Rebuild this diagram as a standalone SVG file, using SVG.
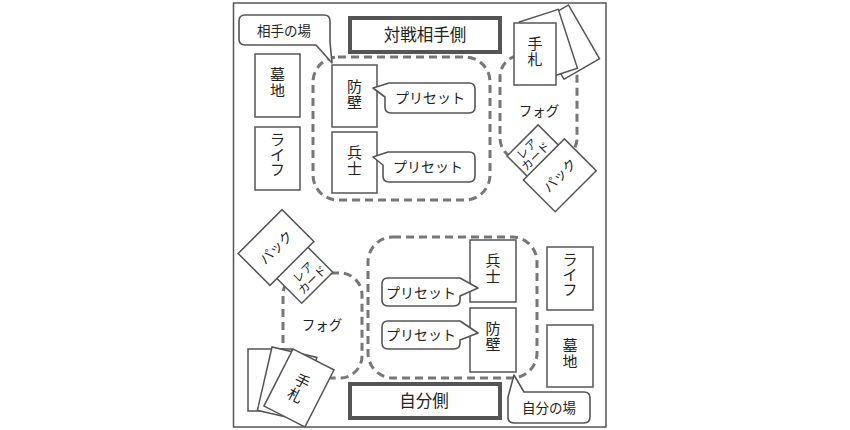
<svg xmlns="http://www.w3.org/2000/svg" width="850" height="430" viewBox="0 0 850 430">
<style>
text{font-family:"Noto Sans CJK JP","Noto Sans",sans-serif;fill:#222;text-anchor:middle}
.card{fill:#fff;stroke:#555;stroke-width:1.5}
.zone{fill:none;stroke:#777;stroke-width:3;stroke-dasharray:8 5}
.title{fill:#fff;stroke:#555;stroke-width:4}
.call{fill:#fff;stroke:#555;stroke-width:1.6;stroke-linejoin:round}
.t15{font-size:15px}
.t14{font-size:14px}
.t13{font-size:13.5px}
.t10{font-size:11.5px}
.t16{font-size:16.5px}
</style>
<rect x="0" y="0" width="850" height="430" fill="#fff"/>
<rect id="frame" x="233.5" y="3" width="372.5" height="424" fill="#fff" stroke="#555" stroke-width="1.5"/>

<g id="zone-opponent"><rect class="zone" x="313" y="57" width="177" height="143" rx="25"/></g>
<g id="zone-self"><rect class="zone" x="368" y="237" width="169" height="141" rx="25"/></g>
<g id="fog-opponent"><rect class="zone" x="500" y="55" width="77" height="105" rx="22"/><text class="t13" x="539" y="116">フォグ</text></g>
<g id="fog-self"><rect class="zone" x="283" y="273" width="79" height="105" rx="22"/><text class="t13" x="322" y="330">フォグ</text></g>

<g id="title-opponent"><rect class="title" x="350" y="18" width="150" height="34"/><text class="t16" x="425" y="41">対戦相手側</text></g>
<g id="title-self"><rect class="title" x="350" y="384" width="150" height="34"/><text class="t16" x="424" y="407">自分側</text></g>

<g id="opp-grave"><rect class="card" x="255" y="54" width="45" height="63"/><text class="t15" x="277.5" y="80">墓</text><text class="t15" x="277.5" y="96">地</text></g>
<g id="opp-life"><rect class="card" x="255" y="127" width="45" height="63"/><text class="t15" x="277.5" y="145">ラ</text><text class="t15" x="277.5" y="160">イ</text><text class="t15" x="277.5" y="175">フ</text></g>
<g id="opp-wall"><rect class="card" x="332" y="65" width="45" height="62"/><text class="t15" x="354.5" y="92">防</text><text class="t15" x="354.5" y="108">壁</text></g>
<g id="opp-soldier"><rect class="card" x="332" y="132" width="45" height="61"/><text class="t15" x="354.5" y="158">兵</text><text class="t15" x="354.5" y="174">士</text></g>

<g id="self-soldier"><rect class="card" x="470" y="240" width="46" height="62"/><text class="t15" x="493" y="266">兵</text><text class="t15" x="493" y="282">士</text></g>
<g id="self-wall"><rect class="card" x="470" y="308" width="46" height="64"/><text class="t15" x="493" y="334">防</text><text class="t15" x="493" y="350">壁</text></g>
<g id="self-life"><rect class="card" x="547" y="247" width="46" height="63"/><text class="t15" x="570" y="265">ラ</text><text class="t15" x="570" y="280">イ</text><text class="t15" x="570" y="295">フ</text></g>
<g id="self-grave"><rect class="card" x="547" y="325" width="46" height="62"/><text class="t15" x="570" y="351">墓</text><text class="t15" x="570" y="367">地</text></g>

<g id="opp-preset1"><path class="call" d="M389,83 H469 Q475,83 475,89 V107 Q475,113 469,113 H391 Q385,113 385,107 V97 L373,88 Z"/><text class="t14" x="430" y="103">プリセット</text></g>
<g id="opp-preset2"><path class="call" d="M388,152 H469 Q475,152 475,158 V176 Q475,182 469,182 H389 Q383,182 383,176 V165 L373,157 Z"/><text class="t14" x="428" y="172">プリセット</text></g>
<g id="self-preset1"><path class="call" d="M388,278 H460 L478,288 L460,296 V300 Q460,306 454,306 H388 Q382,306 382,300 V284 Q382,278 388,278 Z"/><text class="t14" x="421" y="298">プリセット</text></g>
<g id="self-preset2"><path class="call" d="M388,321 H460 L478,333 L460,340 V343 Q460,349 454,349 H388 Q382,349 382,343 V327 Q382,321 388,321 Z"/><text class="t14" x="421" y="340">プリセット</text></g>

<g id="label-opp-field"><path class="call" d="M245,15 H324 Q330,15 330,21 V42 L332,63 L316,45 H245 Q239,45 239,39 V21 Q239,15 245,15 Z"/><text class="t13" x="284" y="36">相手の場</text></g>
<g id="label-self-field"><path class="call" d="M508,417 V397 L514,375 L524,392 H584 Q590,392 590,398 V417 Q590,423 584,423 H514 Q508,423 508,417 Z"/><text class="t13" x="549" y="413">自分の場</text></g>

<g id="opp-hand">
<rect class="card" x="0" y="0" width="41" height="62" transform="translate(533,25.5) rotate(-30)"/>
<rect class="card" x="0" y="0" width="41" height="62" transform="translate(519.3,22) rotate(-18)"/>
<rect class="card" x="514" y="23" width="42" height="62"/>
<text class="t15" x="535" y="49">手</text><text class="t15" x="535" y="65">札</text>
</g>
<g id="opp-rare" transform="translate(507,156) rotate(-45)">
<rect class="card" x="0" y="0" width="44" height="44"/>
<text class="t10" x="19" y="13">レア</text><text class="t10" x="20" y="24.5">カード</text>
</g>
<g id="opp-pack" transform="translate(559.8,175.3) rotate(-45)">
<rect class="card" x="-29" y="-22.5" width="58" height="45"/>
<text class="t13" x="0" y="5">パック</text>
</g>

<g id="self-rare" transform="translate(270.6,272.2) rotate(-45)">
<rect class="card" x="0" y="0" width="44" height="44"/>
<text class="t10" x="23" y="27">レア</text><text class="t10" x="24" y="39">カード</text>
</g>
<g id="self-pack" transform="translate(276,247.5) rotate(-45)">
<rect class="card" x="-31" y="-22.5" width="62" height="45"/>
<text class="t13" x="0" y="5">パック</text>
</g>
<g id="self-hand">
<rect class="card" x="248" y="349" width="44" height="62"/>
<rect class="card" x="0" y="0" width="46" height="65" transform="translate(272,347) rotate(13)"/>
<g transform="translate(293,349) rotate(27)">
<rect class="card" x="0" y="0" width="46" height="64"/>
<text class="t15" x="23" y="30">手</text><text class="t15" x="23" y="46">札</text>
</g>
</g>
<g id="connectors"/>
</svg>
